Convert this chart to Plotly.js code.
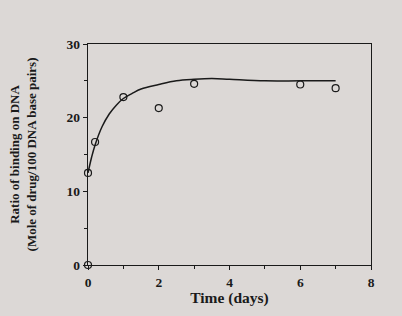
<!DOCTYPE html>
<html><head><meta charset="utf-8">
<script src="https://cdn.plot.ly/plotly-3.0.1.min.js"></script>
<style>html,body{margin:0;padding:0;background:#dcd8d6;}</style>
</head><body>
<div id="chart" style="width:402px;height:316px;"></div>
<script>
// Measured data points
const timeDays = [0, 0, 0.2, 1, 2, 3, 6, 7];
const bindingRatio = [0, 12.5, 16.7, 22.8, 21.3, 24.6, 24.5, 24.0];
// Fitted curve
const curveTime = [0, 0.1, 0.2, 0.4, 0.6, 0.8, 1.0, 1.25, 1.5, 2.0, 2.5, 3.0, 3.5, 4.0, 5.0, 6.0, 7.0];
const curveRatio = [12.5, 14.6, 16.3, 18.8, 20.5, 21.7, 22.6, 23.3, 23.9, 24.5, 25.0, 25.2, 25.3, 25.2, 25.0, 25.0, 25.0];
const xTicks = [0, 2, 4, 6, 8];
const yTicks = [0, 10, 20, 30];

const font = {family: 'Liberation Serif, Times New Roman, serif', color: '#1a1a1a'};
const data = [
  {x: curveTime, y: curveRatio, mode: 'lines', line: {color: '#1a1a1a', width: 1.5, shape: 'spline'}, hoverinfo: 'skip', cliponaxis: false},
  {x: timeDays, y: bindingRatio, mode: 'markers', cliponaxis: false,
   marker: {symbol: 'circle-open', size: 7, color: '#1a1a1a', line: {width: 1.2, color: '#1a1a1a'}}}
];
const layout = {
  width: 402, height: 316,
  margin: {l: 88, r: 31, t: 44, b: 51},
  paper_bgcolor: '#dcd8d6', plot_bgcolor: '#dcd8d6',
  showlegend: false,
  font: Object.assign({}, font, {size: 13}),
  xaxis: {range: [0, 8], tickvals: xTicks, ticks: 'outside', ticklen: 4, tickwidth: 1, tickcolor: '#1a1a1a',
    minor: {dtick: 1, ticks: 'outside', ticklen: 3, tickcolor: '#1a1a1a', tick0: 0},
    showline: true, linecolor: '#1a1a1a', linewidth: 1.3, mirror: true, showgrid: false, zeroline: false,
    tickfont: {family: font.family, size: 13.5, color: '#1a1a1a', weight: 'bold'},
    title: {text: '<b>Time (days)</b>', font: {family: font.family, size: 15.5, color: '#1a1a1a'}, standoff: 3}},
  yaxis: {range: [0, 30], tickvals: yTicks, ticks: 'outside', ticklen: 4, tickwidth: 1, tickcolor: '#1a1a1a',
    minor: {dtick: 5, ticks: 'outside', ticklen: 3, tickcolor: '#1a1a1a', tick0: 0},
    showline: true, linecolor: '#1a1a1a', linewidth: 1.3, mirror: true, showgrid: false, zeroline: false,
    tickfont: {family: font.family, size: 13.5, color: '#1a1a1a', weight: 'bold'},
    title: {text: '<b>Ratio of binding on DNA<br>(Mole of drug/100 DNA base pairs)</b>', font: {family: font.family, size: 13, color: '#1a1a1a'}, standoff: 27}}
};
Plotly.newPlot('chart', data, layout, {displayModeBar: false, staticPlot: true});
</script>
</body></html>
